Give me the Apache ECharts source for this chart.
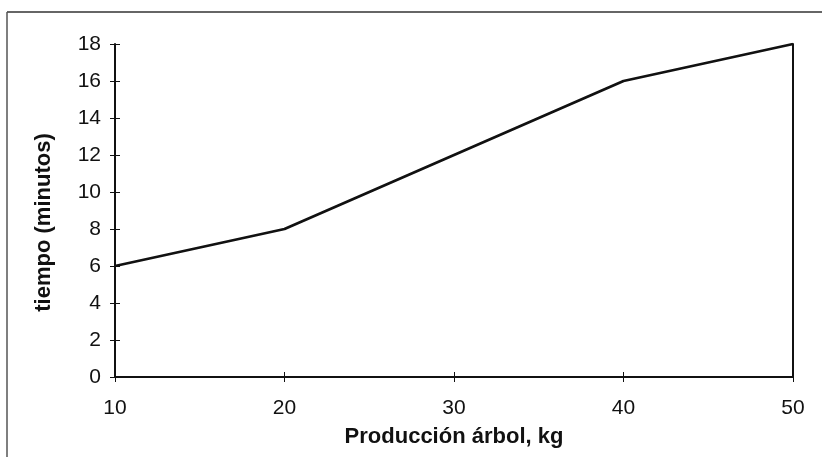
<!DOCTYPE html>
<html><head><meta charset="utf-8">
<script src="https://cdn.jsdelivr.net/npm/echarts@6/dist/echarts.min.js"></script>
<style>html,body{margin:0;padding:0;background:#fff}#c{width:822px;height:457px}</style>
</head><body><div id="c"></div>
<script>
const xValues = [10, 20, 30, 40, 50];
const yValues = [6, 8, 12, 16, 18];
const xName = 'Producción árbol, kg';
const yName = 'tiempo (minutos)';

const chart = echarts.init(document.getElementById('c'), null, {renderer: 'canvas'});
const font = '"Liberation Sans", Arial, sans-serif';
const lineStyle = {color: '#111', width: 2};
const hidden = {axisLabel: {show: false}, splitLine: {show: false}};
chart.setOption({
  animation: false,
  backgroundColor: '#fff',
  grid: {left: 115, right: 29, top: 44, bottom: 80},
  graphic: [
    {type: 'line', shape: {x1: 7, y1: 12, x2: 822, y2: 12}, style: {stroke: '#333', lineWidth: 1.5}},
    {type: 'line', shape: {x1: 7, y1: 12, x2: 7, y2: 457}, style: {stroke: '#555', lineWidth: 1.5}}
  ],
  xAxis: [
    {type: 'value', min: 10, max: 50, interval: 10, position: 'bottom',
     name: xName, nameLocation: 'middle', nameGap: 49,
     nameTextStyle: {fontFamily: font, fontWeight: 'bold', fontSize: 22, color: '#111'},
     axisLine: {lineStyle: lineStyle},
     axisTick: {show: true, length: 5, lineStyle: {color: '#111', width: 1}},
     axisLabel: {fontFamily: font, fontSize: 21, color: '#111', margin: 21},
     splitLine: {show: false}},
    Object.assign({type: 'value', min: 10, max: 50, interval: 10, position: 'bottom',
     axisLine: {show: false},
     axisTick: {show: true, inside: true, length: 5, lineStyle: {color: '#111', width: 1}}}, hidden),
    Object.assign({type: 'value', min: 10, max: 50, position: 'top',
     axisLine: {lineStyle: lineStyle}, axisTick: {show: false}}, hidden)
  ],
  yAxis: [
    {type: 'value', min: 0, max: 18, interval: 2, position: 'left',
     name: yName, nameLocation: 'middle', nameGap: 60, nameRotate: 90,
     nameTextStyle: {fontFamily: font, fontWeight: 'bold', fontSize: 22, color: '#111', padding: [0, 24, 0, 0]},
     axisLine: {lineStyle: lineStyle},
     axisTick: {show: true, length: 5, lineStyle: {color: '#111', width: 1}},
     axisLabel: {fontFamily: font, fontSize: 21, color: '#111', margin: 14},
     splitLine: {show: false}},
    Object.assign({type: 'value', min: 0, max: 18, interval: 2, position: 'left',
     axisLine: {show: false},
     axisTick: {show: true, inside: true, length: 5, lineStyle: {color: '#111', width: 1}}}, hidden),
    Object.assign({type: 'value', min: 0, max: 18, position: 'right',
     axisLine: {lineStyle: lineStyle}, axisTick: {show: false}}, hidden)
  ],
  series: [{
    type: 'line',
    data: xValues.map((x, i) => [x, yValues[i]]),
    symbol: 'none',
    lineStyle: {color: '#111', width: 2.8},
    xAxisIndex: 0, yAxisIndex: 0
  }]
});
</script></body></html>
